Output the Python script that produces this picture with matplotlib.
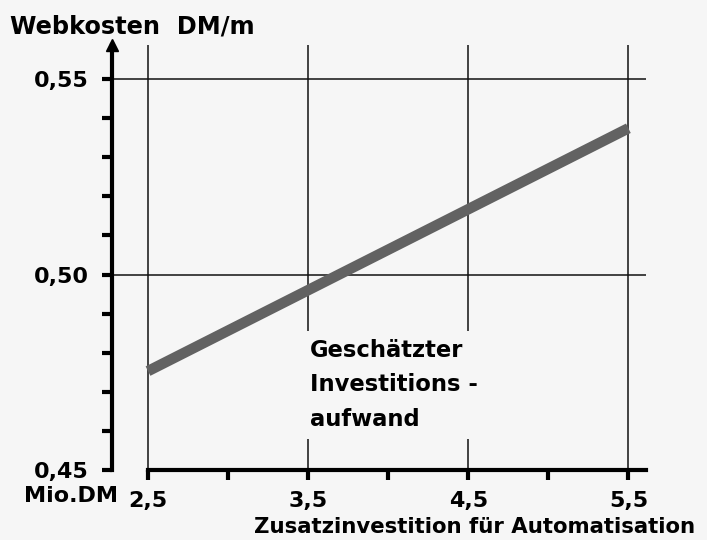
import matplotlib.pyplot as plt
from matplotlib.ticker import MultipleLocator, FixedLocator

# data
invest = [2.5, 5.5]                 # Mio. DM
webkosten = [0.4753, 0.5374]        # DM/m
x_ticks = [2.5, 3.5, 4.5, 5.5]
x_labels = ['2,5', '3,5', '4,5', '5,5']
y_ticks = [0.45, 0.50, 0.55]
y_labels = ['0,45', '0,50', '0,55']

plt.rcParams['font.family'] = ['DejaVu Sans']
plt.rcParams['font.weight'] = 'bold'

bg = '#f6f6f6'
fig = plt.figure(figsize=(7.07, 5.40), dpi=100, facecolor=bg)
ax = fig.add_axes([0.1584, 0.1296, 0.7553, 0.7871], facecolor=bg)

ax.set_xlim(2.275, 5.61)
ax.set_ylim(0.45, 0.5587)

# grid lines
for xv in x_ticks:
    ax.axvline(xv, color='#111111', lw=1.1, zorder=1)
for yv in y_ticks[1:]:
    ax.axhline(yv, color='#111111', lw=1.1, zorder=1)

# the cost band
ax.plot(invest, webkosten, color='#626262', lw=7.6, solid_capstyle='butt', zorder=2)

# spines
for s in ['top', 'right']:
    ax.spines[s].set_visible(False)
ax.spines['left'].set_linewidth(3)
ax.spines['bottom'].set_linewidth(3)
ax.spines['bottom'].set_bounds(2.5, 5.61)
ax.spines['left'].set_bounds(0.45, 0.5587)
# arrow head on the y axis
ax.plot(2.275, 0.5587, marker='^', color='black', markersize=9, clip_on=False, zorder=5)

ax.xaxis.set_major_locator(FixedLocator(x_ticks))
ax.set_xticklabels(x_labels)
ax.xaxis.set_minor_locator(FixedLocator([3.0, 4.0, 5.0]))
ax.yaxis.set_major_locator(FixedLocator(y_ticks))
ax.set_yticklabels(y_labels)
ax.yaxis.set_minor_locator(MultipleLocator(0.01))

ax.tick_params(axis='both', which='both', direction='out', width=3, color='black')
ax.tick_params(axis='y', which='both', length=7, pad=10, labelsize=16)
ax.tick_params(axis='x', which='both', length=7, pad=8, labelsize=16)

# annotation box covering the grid
ax.text(3.51, 0.4718, 'Geschätzter\nInvestitions -\naufwand', fontsize=16.3,
        fontweight='bold', ha='left', va='center', linespacing=1.65, zorder=4,
        bbox=dict(boxstyle='square,pad=0.35', facecolor=bg, edgecolor='none'))

fig.text(10 / 707, 1 - 27 / 540, 'Webkosten  DM/m', fontsize=17.3, fontweight='bold',
         ha='left', va='center')
fig.text(118 / 707, 1 - 496 / 540, 'Mio.DM', fontsize=16, fontweight='bold',
         ha='right', va='center')
fig.text(695 / 707, 1 - 527 / 540, 'Zusatzinvestition für Automatisation', fontsize=15.3,
         fontweight='bold', ha='right', va='center')

plt.savefig('out.png', dpi=100, facecolor=bg)
